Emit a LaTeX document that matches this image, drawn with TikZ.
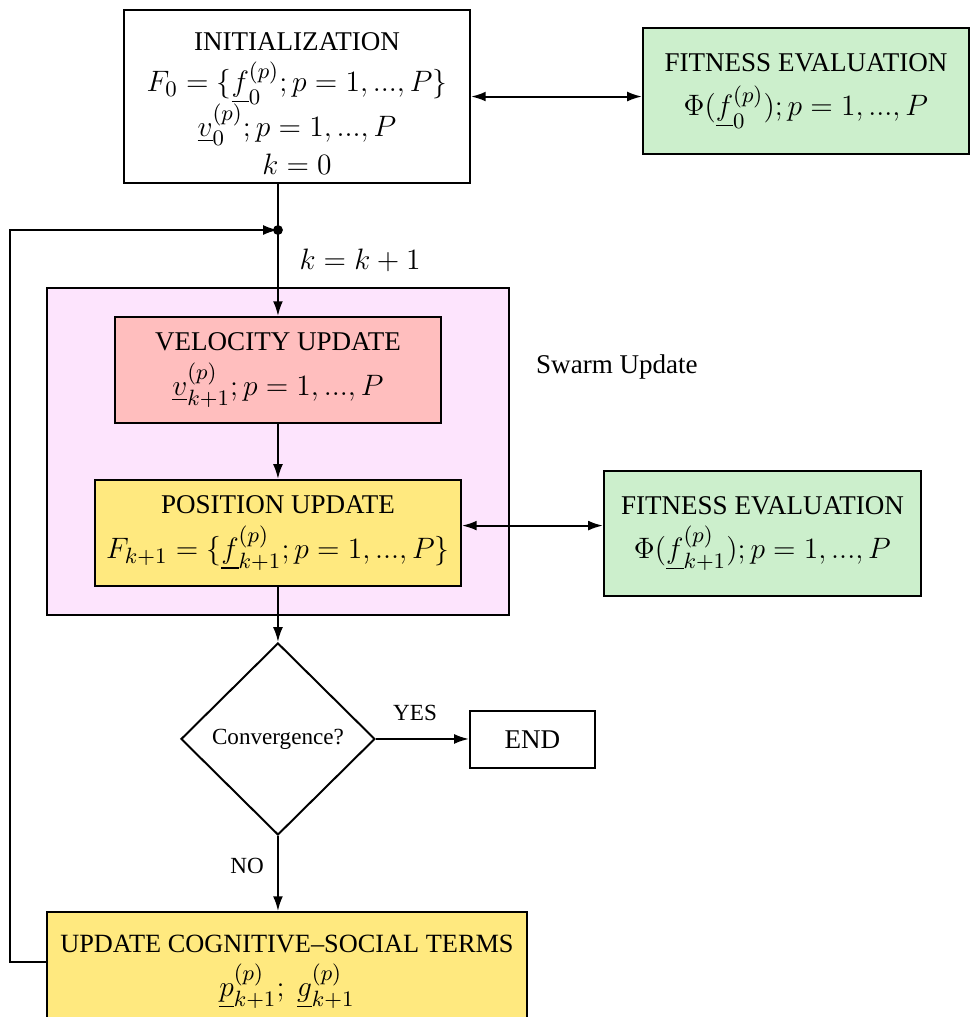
\documentclass[tikz,border=0pt]{standalone}
\usepackage{amsmath,amssymb}
\usepackage[no-math]{fontspec}
\setmainfont{Liberation Serif}
\usetikzlibrary{arrows.meta, shapes.geometric, positioning, calc}
\definecolor{SwarmPink}{RGB}{253,228,253}
\definecolor{VelRed}{RGB}{255,190,190}
\definecolor{PosYellow}{RGB}{255,233,127}
\definecolor{FitGreen}{RGB}{204,239,204}
% larger size for the formulas inside the boxes
\newcommand{\fm}[1]{{\fontsize{12.2}{18}\selectfont$#1$}}

\begin{document}
\begin{tikzpicture}[
    txt/.style={font=\fontsize{11}{18}\selectfont},
    procbox/.style={txt,draw=black,line width=0.8pt,align=center,inner sep=2pt},
    decbox/.style={draw=black,line width=0.8pt,diamond,aspect=1,inner sep=0pt,
                   font=\fontsize{9.4}{12}\selectfont},
    arr/.style={-{Latex[length=6pt,width=4pt]},line width=0.8pt},
    darr/.style={{Latex[length=6pt,width=4pt]}-{Latex[length=6pt,width=4pt]},line width=0.8pt}
  ]
    \useasboundingbox (0,0) rectangle (13.871,-14.529);
    % swarm update frame
    \node[procbox,fill=SwarmPink,minimum width=6.6cm,minimum height=4.671cm] (swarm) at (3.971,-6.45) {};
    \node[txt] (swarmlbl) at (8.814,-5.243) {Swarm Update};

    \node[procbox,minimum width=4.943cm,minimum height=2.471cm] (init) at (4.243,-1.379)
      {\rule{0pt}{13pt}INITIALIZATION\\[-1.2pt]\fm{F_0=\{\underline{f}^{(p)}_0;p=1,...,P\}}\\[-1.2pt]
       \fm{\underline{v}^{(p)}_0;p=1,...,P}\\[-2.4pt]\fm{k=0}};
    \node[procbox,fill=FitGreen,minimum width=4.657cm,minimum height=1.8cm] (fitA) at (11.514,-1.3)
      {FITNESS EVALUATION\\\fm{\Phi(\underline{f}^{(p)}_0);p=1,...,P}};
    \node[procbox,fill=VelRed,minimum width=4.657cm,minimum height=1.514cm] (vel) at (3.971,-5.286)
      {VELOCITY UPDATE\\\fm{\underline{v}^{(p)}_{k+1};p=1,...,P}};
    \node[procbox,fill=PosYellow,minimum width=5.229cm,minimum height=1.514cm] (pos) at (3.971,-7.614)
      {POSITION UPDATE\\\fm{F_{k+1}=\{\underline{f}^{(p)}_{k+1};p=1,...,P\}}};
    \node[procbox,fill=FitGreen,minimum width=4.529cm,minimum height=1.786cm] (fitB) at (10.893,-7.621)
      {FITNESS EVALUATION\\\fm{\Phi(\underline{f}^{(p)}_{k+1});p=1,...,P}};
    \node[decbox,minimum width=2.771cm,minimum height=2.743cm] (conv) at (3.971,-10.557) {Convergence?};
    \node[procbox,minimum width=1.786cm,minimum height=0.814cm] (end) at (7.607,-10.564) {END};
    \node[procbox,font=\fontsize{10.7}{18}\selectfont,fill=PosYellow,minimum width=6.857cm,minimum height=1.7cm] (cog) at (4.1,-13.88)
      {UPDATE COGNITIVE--SOCIAL TERMS\\\fm{\underline{p}^{(p)}_{k+1};\ \underline{g}^{(p)}_{k+1}}};

    \coordinate (join) at (3.971,-3.286);
    \coordinate (back) at (0.143,-3.286);
    \node (kinc) at (5.143,-3.714) {\fm{k=k+1}};
    \node[font=\fontsize{9.4}{12}\selectfont] (yes) at (5.929,-10.186) {YES};
    \node[font=\fontsize{9.4}{12}\selectfont] (no) at (3.529,-12.371) {NO};

    \draw[line width=0.8pt] (init.south -| join) -- (join);
    \fill (join) circle (2pt);
    \draw[arr] (join) -- (vel);
    \draw[arr] (vel) -- (pos);
    \draw[arr] (pos) -- (conv);
    \draw[arr] (conv.east) -- (conv.east -| end.west);
    \draw[arr] (conv) -- (cog.north -| conv);
    \draw[darr] (init.east) -- (init.east -| fitA.west);
    \draw[darr] ([yshift=3pt]pos.east) -- ([yshift=3pt]pos.east -| fitB.west);
    \draw[arr] ([yshift=4pt]cog.west) -| (back) -- (join);
  \end{tikzpicture}
\end{document}
